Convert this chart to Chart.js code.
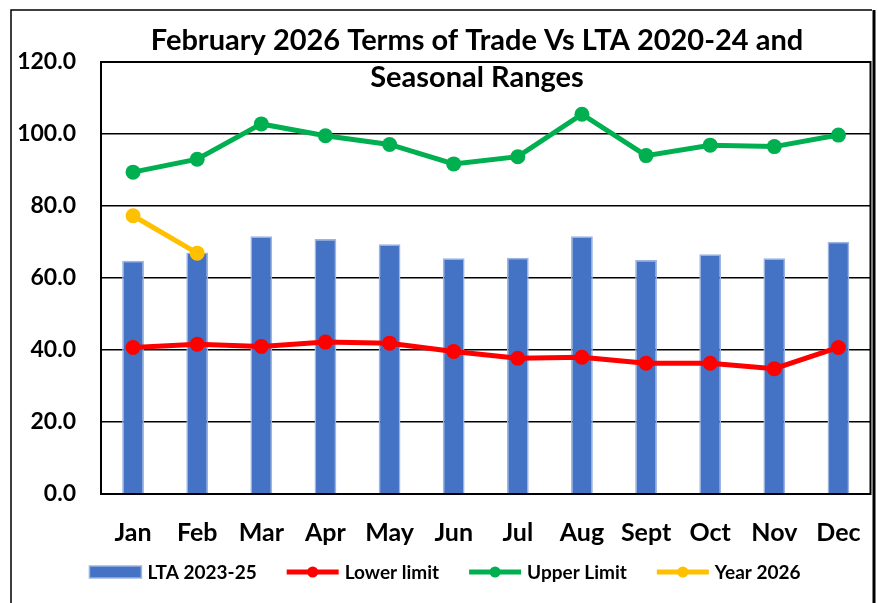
<!DOCTYPE html>
<html>
<head>
<meta charset="utf-8">
<script src="https://cdn.jsdelivr.net/npm/chart.js@4.4.1/dist/chart.umd.min.js"></script>
<style>
  html, body { margin: 0; padding: 0; background: #fff; }
  #wrap { width: 878px; height: 603px; position: relative; }
</style>
</head>
<body>
<div id="wrap"><canvas id="chart"></canvas></div>
<script>
const months = ['Jan', 'Feb', 'Mar', 'Apr', 'May', 'Jun', 'Jul', 'Aug', 'Sept', 'Oct', 'Nov', 'Dec'];
const lta = [64.8, 67.1, 71.6, 70.8, 69.4, 65.5, 65.6, 71.6, 65.0, 66.6, 65.5, 70.1];
const lowerLimit = [40.7, 41.6, 41.0, 42.2, 41.9, 39.6, 37.7, 38.0, 36.3, 36.3, 34.8, 40.7];
const upperLimit = [89.4, 93.0, 102.8, 99.5, 97.1, 91.7, 93.7, 105.5, 94.0, 96.9, 96.5, 99.7];
const year2026 = [77.3, 66.9, null, null, null, null, null, null, null, null, null, null];
const titleLines = ['February 2026 Terms of Trade Vs LTA 2020-24 and', 'Seasonal Ranges'];

const FONT = 'Lato, "Open Sans", sans-serif';
const BLUE = '#4472C4';
const RED = '#FF0000';
const GREEN = '#00B050';
const GOLD = '#FFC000';

// title, frame, plot border and legend drawn on top
const decor = {
    id: 'decor',
    afterDraw(chart) {
        const ctx = chart.ctx;
        const area = chart.chartArea;
        ctx.save();

        // outer frame
        ctx.strokeStyle = '#000';
        ctx.lineWidth = 1.5;
        ctx.beginPath();
        ctx.moveTo(11, 610);
        ctx.lineTo(11, 10);
        ctx.lineTo(872, 10);
        ctx.stroke();
        ctx.lineWidth = 3;
        ctx.beginPath();
        ctx.moveTo(874, 10);
        ctx.lineTo(874, 610);
        ctx.stroke();

        // plot border
        ctx.lineWidth = 2;
        ctx.strokeRect(area.left, area.top, area.right - area.left, area.bottom - area.top);

        // title
        ctx.fillStyle = '#000';
        ctx.font = 'bold 29px ' + FONT;
        ctx.textAlign = 'center';
        ctx.textBaseline = 'middle';
        ctx.fillText(titleLines[0], 477, 41);
        ctx.fillText(titleLines[1], 477, 78);

        // legend
        const items = chart.data.datasets.map(ds => ({
            text: ds.label, color: ds.backgroundColor, bar: ds.type === 'bar'
        }));
        ctx.font = 'bold 19px ' + FONT;
        const sw = 52, gapIn = 6, gapOut = 30;
        const widths = items.map(it => sw + gapIn + ctx.measureText(it.text).width);
        const total = widths.reduce((a, b) => a + b, 0) + gapOut * (items.length - 1);
        let x = 445 - total / 2;
        const y = 572;
        ctx.textAlign = 'left';
        items.forEach((it, i) => {
            if (it.bar) {
                ctx.fillStyle = BLUE;
                ctx.fillRect(x, y - 6, sw, 12);
                ctx.strokeStyle = '#9DB4E0';
                ctx.lineWidth = 1.5;
                ctx.strokeRect(x, y - 6, sw, 12);
            } else {
                ctx.strokeStyle = it.color;
                ctx.lineWidth = 5;
                ctx.beginPath();
                ctx.moveTo(x, y);
                ctx.lineTo(x + sw, y);
                ctx.stroke();
                ctx.fillStyle = it.color;
                ctx.beginPath();
                ctx.arc(x + sw / 2, y, 5.5, 0, Math.PI * 2);
                ctx.fill();
            }
            ctx.fillStyle = '#000';
            ctx.fillText(it.text, x + sw + gapIn, y + 1);
            x += widths[i] + gapOut;
        });
        ctx.restore();
    }
};

new Chart(document.getElementById('chart'), {
    data: {
        labels: months,
        datasets: [
            {
                type: 'bar',
                label: 'LTA 2023-25',
                data: lta,
                backgroundColor: BLUE,
                borderColor: '#9DB4E0',
                borderWidth: 1.5,
                barPercentage: 0.34,
                categoryPercentage: 1,
                order: 4,
            },
            {
                type: 'line',
                label: 'Lower limit',
                data: lowerLimit,
                borderColor: RED,
                backgroundColor: RED,
                borderWidth: 5,
                pointRadius: 7.5,
                pointBorderWidth: 0,
                order: 3,
            },
            {
                type: 'line',
                label: 'Upper Limit',
                data: upperLimit,
                borderColor: GREEN,
                backgroundColor: GREEN,
                borderWidth: 5,
                pointRadius: 7.5,
                pointBorderWidth: 0,
                order: 2,
            },
            {
                type: 'line',
                label: 'Year 2026',
                data: year2026,
                borderColor: GOLD,
                backgroundColor: GOLD,
                borderWidth: 5,
                pointRadius: 7.5,
                pointBorderWidth: 0,
                order: 1,
            },
        ]
    },
    options: {
        responsive: true,
        maintainAspectRatio: false,
        animation: false,
        layout: { padding: { top: 62, right: 0, left: 0, bottom: 0 } },
        plugins: {
            legend: { display: false },
            title: { display: false },
            tooltip: { enabled: false },
        },
        scales: {
            x: {
                grid: { display: false, drawTicks: false },
                border: { display: false },
                ticks: {
                    color: '#000',
                    font: { family: FONT, size: 25, weight: 'bold' },
                    padding: 24,
                    maxRotation: 0,
                    autoSkip: false,
                },
                afterFit(scale) {
                    scale.height = 109;
                    scale.paddingRight = 0;
                },
            },
            y: {
                min: 0,
                max: 120,
                grid: { color: '#000', lineWidth: 1.5, drawTicks: false },
                border: { display: false },
                ticks: {
                    stepSize: 20,
                    color: '#000',
                    padding: 25,
                    font: { family: FONT, size: 23, weight: 'bold' },
                    callback: v => v.toFixed(1),
                },
                afterFit(scale) { scale.width = 101; },
            }
        }
    },
    plugins: [decor]
});
</script>
</body>
</html>
